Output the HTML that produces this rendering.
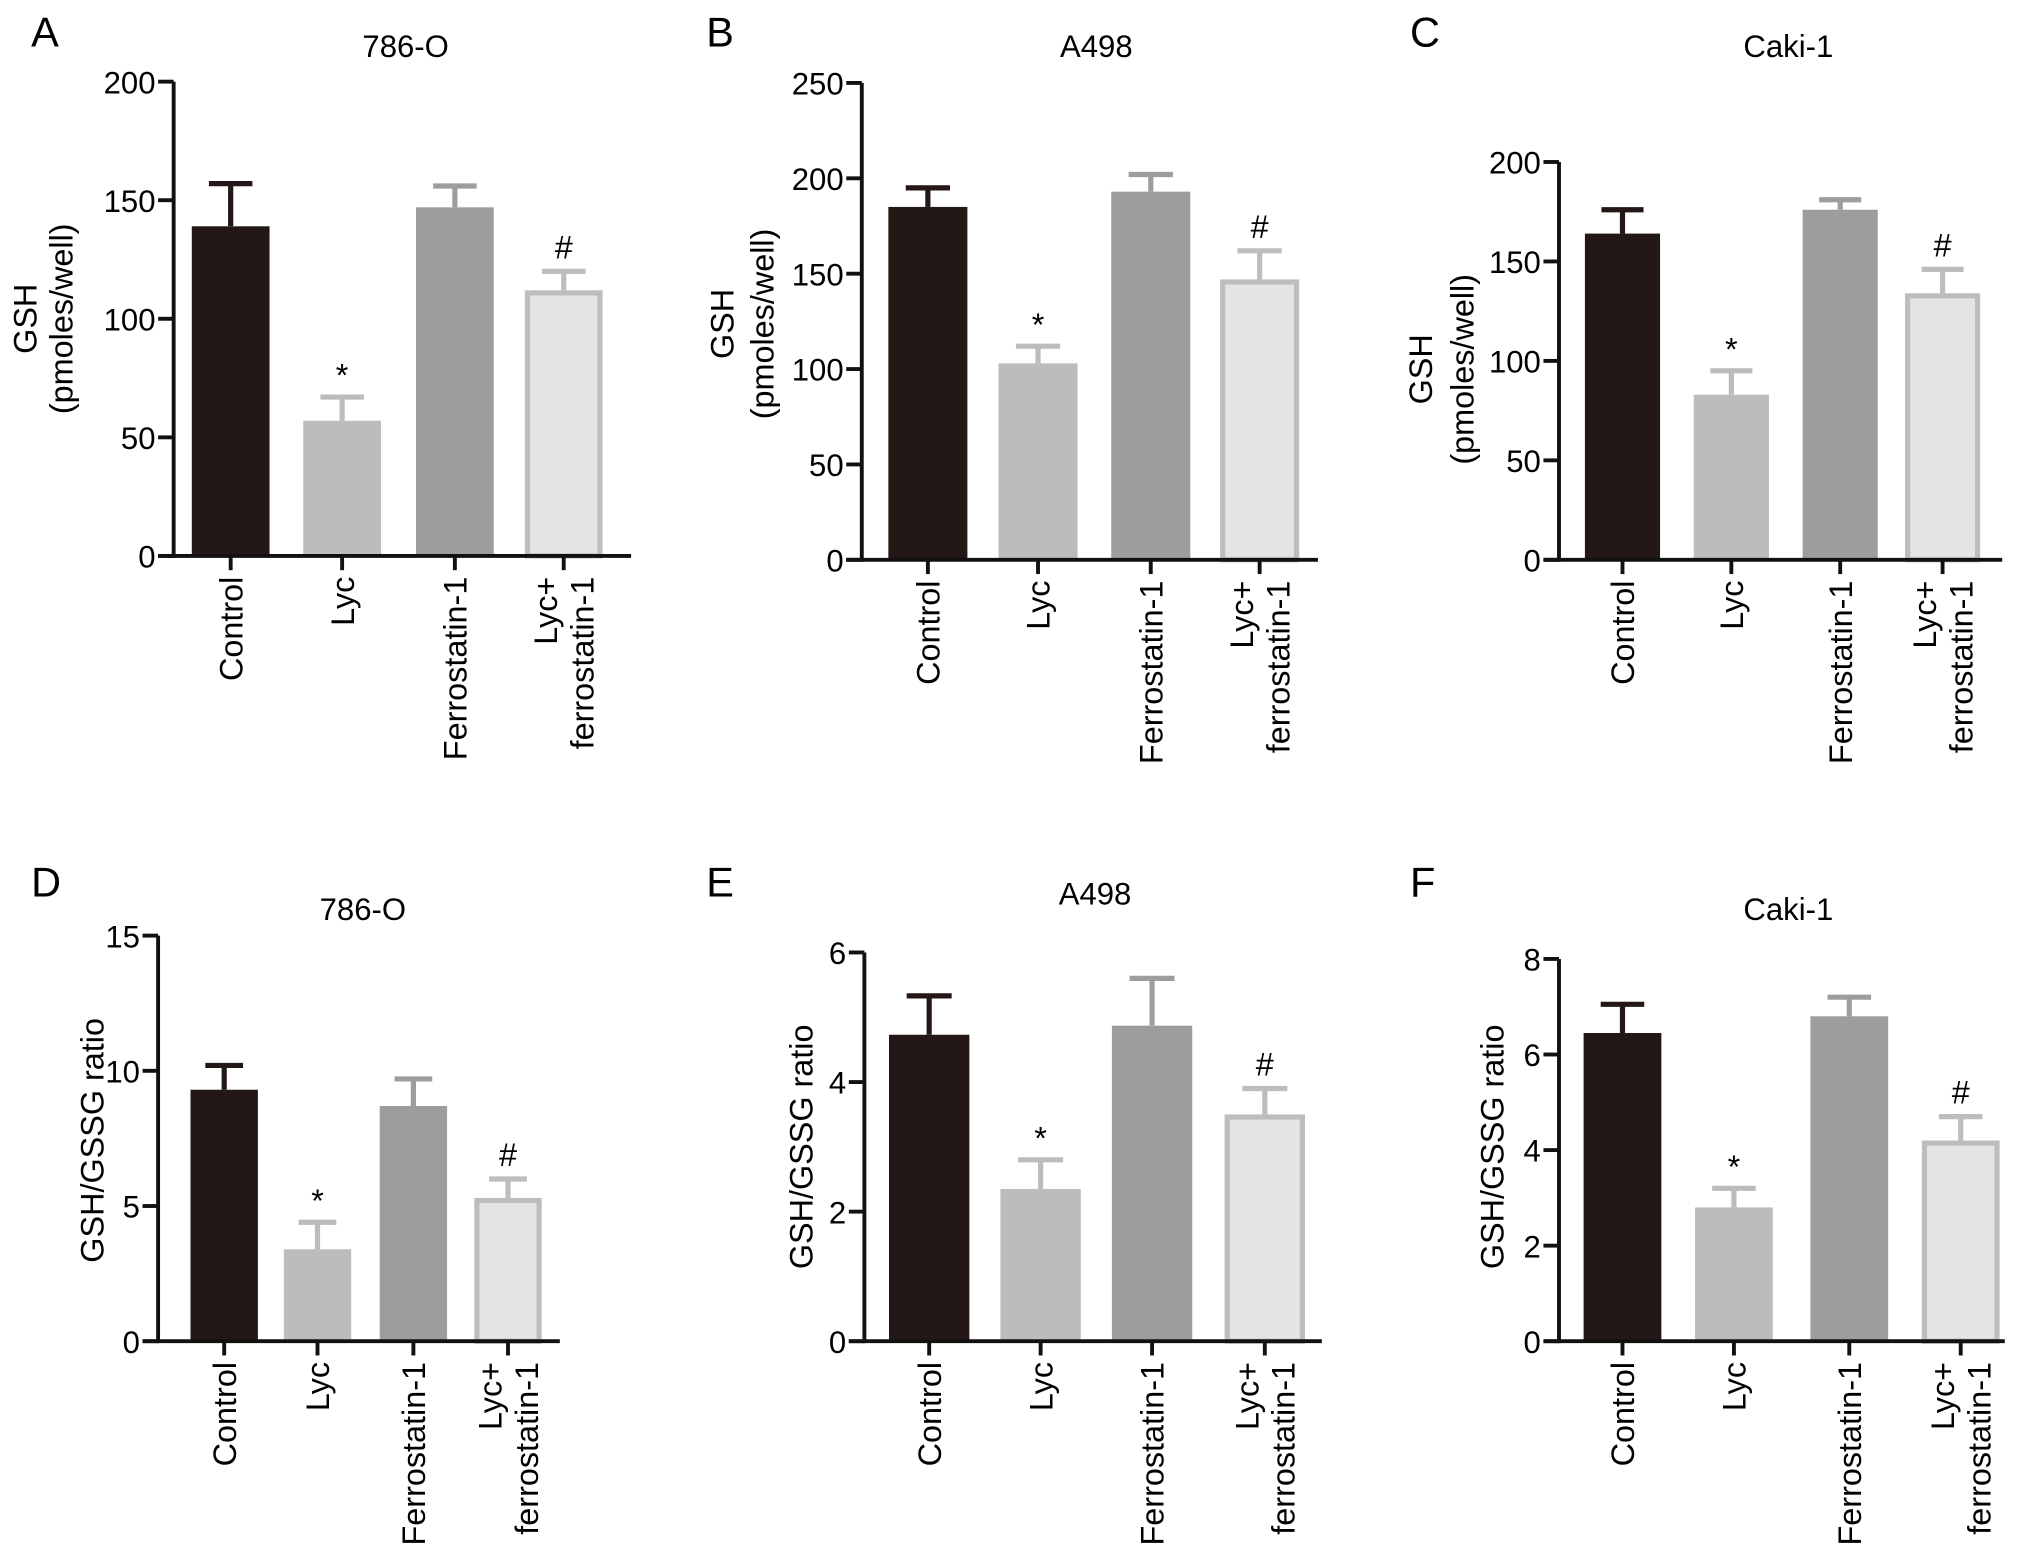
<!DOCTYPE html>
<html><head><meta charset="utf-8"><style>
html,body{margin:0;padding:0;background:#fff;}
svg{display:block;font-family:"Liberation Sans",Arial,sans-serif;}
</style></head><body>
<svg id="fig" width="2032" height="1561" viewBox="0 0 1568 1204.6" preserveAspectRatio="none" xmlns="http://www.w3.org/2000/svg"></svg>
<script>
const categories = ["Control","Lyc","Ferrostatin-1","Lyc+\nferrostatin-1"];
const barColors = ["#231815","#bcbcbc","#9d9d9d","#e4e4e4"];
// panel A
const valuesA = [139,57,147,112];
const errorsA = [157,67,156,120];
const ticksA = [0,50,100,150,200];
// panel B
const valuesB = [185,103,193,147];
const errorsB = [195,112,202,162];
const ticksB = [0,50,100,150,200,250];
// panel C
const valuesC = [164,83,176,134];
const errorsC = [176,95,181,146];
const ticksC = [0,50,100,150,200];
// panel D
const valuesD = [9.3,3.4,8.7,5.3];
const errorsD = [10.2,4.4,9.7,6.0];
const ticksD = [0,5,10,15];
// panel E
const valuesE = [4.73,2.35,4.87,3.5];
const errorsE = [5.33,2.8,5.6,3.9];
const ticksE = [0,2,4,6];
// panel F
const valuesF = [6.45,2.8,6.8,4.2];
const errorsF = [7.05,3.2,7.2,4.7];
const ticksF = [0,2,4,6,8];
const marks = ["","*","","#"];

const NS="http://www.w3.org/2000/svg";
const svg=document.getElementById('fig');
function el(tag,attrs,parent,text){
  const e=document.createElementNS(NS,tag);
  for(const k in attrs)e.setAttribute(k,attrs[k]);
  if(text!==undefined)e.textContent=text;
  (parent||svg).appendChild(e);return e;
}
function panel(cfg){
  const g=el('g',{});
  
  
  const ymax=cfg.ticks[cfg.ticks.length-1];
  const y=v=>cfg.y0-(v/ymax)*(cfg.y0-cfg.ytop);
  const t1=el('text',{x:cfg.lx,y:cfg.ly,'font-size':32},g,cfg.letter);
  
  
  const t2=el('text',{x:cfg.tx,y:cfg.ty,'font-size':24,'text-anchor':'middle'},g,cfg.title);
  
  
  cfg.ylab.forEach((s,i)=>{
    const t=el('text',{x:0,y:0,'font-size':25,'text-anchor':'middle',transform:`translate(${cfg.ylx[i]},${cfg.lyc}) rotate(-90)`},g,s);
    
    
  });
  cfg.values.forEach((v,i)=>{
    const c=cfg.centers[i],w=cfg.bw;
    const col=barColors[i];
    const errCol=i===3?'#bdbdbd':col;
    const eTop=y(cfg.errors[i]);
    const e1=el('line',{x1:c,x2:c,y1:y(v),y2:eTop,stroke:errCol,'stroke-width':4},g);
    
    
    const e2=el('line',{x1:c-w*0.28,x2:c+w*0.28,y1:eTop,y2:eTop,stroke:errCol,'stroke-width':4},g);
    
    
    let r;
    if(i===3){
      r=el('rect',{x:c-w/2+2,y:y(v)+2,width:w-4,height:cfg.y0-y(v)-2,fill:col,stroke:'#bdbdbd','stroke-width':4},g);
    } else {
      r=el('rect',{x:c-w/2,y:y(v),width:w,height:cfg.y0-y(v),fill:col},g);
    }
    
    
    if(marks[i]){
      const m=el('text',{x:c,y:eTop-(marks[i]==='*'?8:10),'font-size':25,'text-anchor':'middle'},g,marks[i]);
      
      
    }
    const xt=el('line',{x1:c,x2:c,y1:cfg.y0,y2:cfg.y0+11,stroke:'#111','stroke-width':3},g);
    
    
    const lines=categories[i].split('\n');
    lines.forEach((s,j)=>{
      const dx=lines.length===1?9:(j===0?-5:23);
      const t=el('text',{x:0,y:0,'font-size':25,'text-anchor':'end',transform:`translate(${c+dx},${cfg.y0+16}) rotate(-90)`},g,s);
      
      
    });
  });
  const ya=el('line',{x1:cfg.ax,x2:cfg.ax,y1:cfg.ytop,y2:cfg.y0+1.5,stroke:'#111','stroke-width':3},g);
  
  
  const xa=el('line',{x1:cfg.ax-12,x2:cfg.xend,y1:cfg.y0,y2:cfg.y0,stroke:'#111','stroke-width':3},g);
  
  
  cfg.ticks.forEach(tv=>{
    const yy=y(tv);
    const tk=el('line',{x1:cfg.ax-12,x2:cfg.ax,y1:yy,y2:yy,stroke:'#111','stroke-width':3},g);
    
    
    const tl=el('text',{x:cfg.ax-14,y:yy+9,'font-size':24,'text-anchor':'end'},g,String(tv));
    
    
  });
}
const gshLab=["GSH","(pmoles/well)"];
const ratioLab=["GSH/GSSG ratio"];
panel({letter:'A',lx:24,ly:36,title:'786-O',tx:313,ty:44,ax:134,ytop:63,y0:429,xend:487,centers:[178,264,351,435],bw:60,values:valuesA,errors:errorsA,ticks:ticksA,ylab:gshLab,ylx:[28,56],lyc:246});
panel({letter:'B',lx:545,ly:36,title:'A498',tx:846,ty:44,ax:665,ytop:64,y0:432,xend:1017,centers:[716,801,888,972],bw:61,values:valuesB,errors:errorsB,ticks:ticksB,ylab:gshLab,ylx:[566,597],lyc:250});
panel({letter:'C',lx:1088,ly:36,title:'Caki-1',tx:1380,ty:44,ax:1203,ytop:125,y0:432,xend:1545,centers:[1252,1336,1420,1499],bw:58,values:valuesC,errors:errorsC,ticks:ticksC,ylab:gshLab,ylx:[1105,1137],lyc:285});
panel({letter:'D',lx:24,ly:692,title:'786-O',tx:280,ty:710,ax:122,ytop:722,y0:1035,xend:432,centers:[173,245,319,392],bw:52,values:valuesD,errors:errorsD,ticks:ticksD,ylab:ratioLab,ylx:[80],lyc:880});
panel({letter:'E',lx:545,ly:692,title:'A498',tx:845,ty:698,ax:667,ytop:735,y0:1035,xend:1020,centers:[717,803,889,976],bw:62,values:valuesE,errors:errorsE,ticks:ticksE,ylab:ratioLab,ylx:[627],lyc:885});
panel({letter:'F',lx:1088,ly:692,title:'Caki-1',tx:1380,ty:710,ax:1203,ytop:740,y0:1035,xend:1547,centers:[1252,1338,1427,1513],bw:60,values:valuesF,errors:errorsF,ticks:ticksF,ylab:ratioLab,ylx:[1160],lyc:885});
</script>
</body></html>
